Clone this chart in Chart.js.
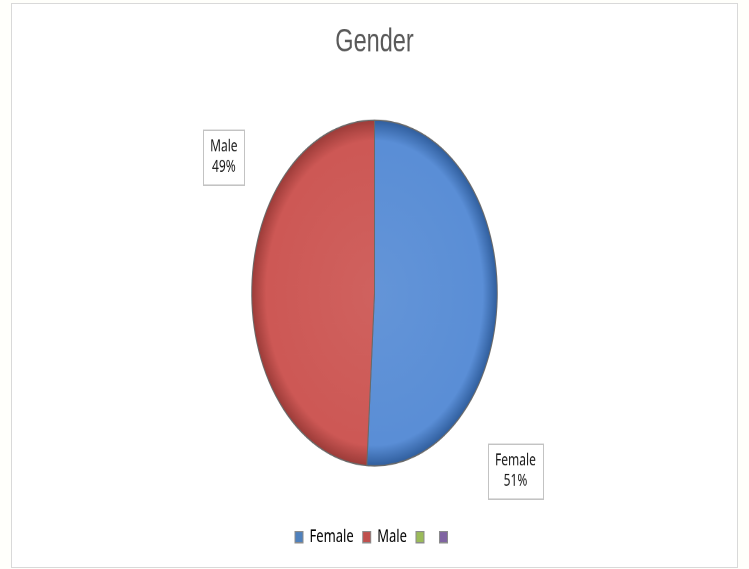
<!DOCTYPE html>
<html>
<head>
<title>Gender</title>
<script src="https://cdn.jsdelivr.net/npm/chart.js"></script>
<style>
    body { margin: 0; background: #fffffb; }
    .frame {
        position: absolute; left: 11px; top: 3px;
        width: 725px; height: 563px;
        border: 1px solid #d9d9d9; background: #fff;
    }
    /* the reference is stretched vertically, so the whole chart is too */
    .stretch {
        position: absolute; left: 0; top: 0;
        width: 749px; height: 404px;
        transform: scaleY(1.408); transform-origin: 0 0;
    }
</style>
</head>
<body>
<div class="frame"></div>
<div class="stretch"><canvas id="genderChart" width="749" height="404"></canvas></div>
<script>
    const categories = ['Female', 'Male', '', ''];
    const shares = [51, 49, 0, 0];
    const sliceColors = ['#5a8ed6', '#cd5855', '#9bbb59', '#8064a2'];
    const sliceEdges = ['#2f5d9c', '#9b3b38', '#76923c', '#5f497a'];
    const legendColors = ['#4f81bd', '#c0504d', '#9bbb59', '#8064a2'];

    // where Excel put the boxed labels: turn from slice middle (deg), distance in radii
    const labelTurn = [40, 31, 0, 0];
    const labelDist = [1.54, 1.46, 1, 1];

    function lighten(hex, f) {
        const n = parseInt(hex.slice(1), 16);
        const r = (n >> 16) & 255, g = (n >> 8) & 255, b = n & 255;
        const mix = c => Math.round(c + (255 - c) * f);
        return `rgb(${mix(r)},${mix(g)},${mix(b)})`;
    }

    function sliceFill(context) {
        const chart = context.chart;
        const area = chart.chartArea;
        const i = context.dataIndex;
        if (!area) return sliceColors[i];
        const cx = (area.left + area.right) / 2;
        const cy = (area.top + area.bottom) / 2;
        const r = Math.min(area.right - area.left, area.bottom - area.top) / 2 * 0.78;
        const g = chart.ctx.createRadialGradient(cx, cy, 0, cx, cy, r);
        g.addColorStop(0, lighten(sliceColors[i], 0.06));
        g.addColorStop(0.88, sliceColors[i]);
        g.addColorStop(1, sliceEdges[i]);
        return g;
    }

    const boxLabels = {
        id: 'boxLabels',
        afterDatasetsDraw(chart) {
            const ctx = chart.ctx;
            const meta = chart.getDatasetMeta(0);
            const total = shares.reduce((a, b) => a + b, 0);
            ctx.save();
            ctx.font = '12px "Noto Sans"';
            ctx.textAlign = 'center';
            ctx.textBaseline = 'middle';
            meta.data.forEach((arc, i) => {
                if (!shares[i]) return;
                const ang = (arc.startAngle + arc.endAngle) / 2 + labelTurn[i] * Math.PI / 180;
                const d = arc.outerRadius * labelDist[i];
                const x = arc.x + Math.cos(ang) * d;
                const y = arc.y + Math.sin(ang) * d;
                const lines = [categories[i], Math.round(shares[i] / total * 100) + '%'];
                const w = Math.round(Math.max(...lines.map(t => ctx.measureText(t).width)) + 14);
                const h = 39;
                const left = Math.round(x - w / 2), top = Math.round(y - h / 2);
                ctx.fillStyle = '#fff';
                ctx.fillRect(left, top, w, h);
                ctx.strokeStyle = '#c3c3c3';
                ctx.lineWidth = 1;
                ctx.strokeRect(left + 0.5, top + 0.5, w, h);
                ctx.fillStyle = '#1a1a1a';
                ctx.fillText(lines[0], x, y - 7);
                ctx.fillText(lines[1], x, y + 7.5);
            });
            ctx.restore();
        }
    };

    new Chart(document.getElementById('genderChart'), {
        type: 'pie',
        data: {
            labels: categories,
            datasets: [{
                data: shares,
                backgroundColor: sliceFill,
                borderColor: '#6a6a6a',
                borderWidth: 1,
                radius: '78%'
            }]
        },
        options: {
            responsive: false,
            animation: false,
            devicePixelRatio: 2,
            layout: { padding: { top: 0, bottom: 6, left: 0, right: 0 } },
            plugins: {
                title: {
                    display: true,
                    text: 'Gender',
                    color: '#595959',
                    font: { family: '"Liberation Sans", Arial, sans-serif', size: 23.5, weight: 'normal' },
                    padding: { top: 16, bottom: 6 }
                },
                legend: {
                    position: 'bottom',
                    labels: {
                        boxWidth: 8,
                        boxHeight: 8,
                        padding: 9,
                        color: '#595959',
                        font: { family: '"Noto Sans", sans-serif', size: 13 },
                        generateLabels: () => categories.map((c, i) => ({
                            text: c,
                            fillStyle: legendColors[i],
                            strokeStyle: '#8c8c8c',
                            lineWidth: 1,
                            hidden: false,
                            index: i
                        }))
                    }
                },
                tooltip: { enabled: false }
            }
        },
        plugins: [boxLabels]
    });
</script>
</body>
</html>
